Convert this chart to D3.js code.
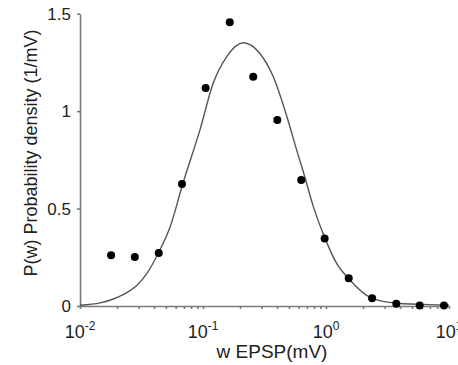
<!DOCTYPE html>
<html>
<head>
<meta charset="utf-8">
<script src="https://cdn.jsdelivr.net/npm/d3@7"></script>
<style>
  body { margin: 0; background: #fff; }
  svg { display: block; font-family: "Liberation Sans", Arial, sans-serif; }
</style>
</head>
<body>
<script>
// measured points (w in mV, density in 1/mV)
const pointW = [0.0179, 0.0279, 0.0437, 0.0675, 0.105, 0.165, 0.256, 0.402, 0.629, 0.975, 1.53, 2.37, 3.73, 5.78, 9.1];
const pointP = [0.26, 0.251, 0.272, 0.626, 1.119, 1.456, 1.176, 0.954, 0.646, 0.347, 0.142, 0.04, 0.012, 0.003, 0.002];

// fitted curve
const curveW = [0.01, 0.0146, 0.0187, 0.0224, 0.0289, 0.0348, 0.0434, 0.054, 0.0684, 0.0946, 0.121, 0.156, 0.213, 0.29, 0.373, 0.479, 0.578, 0.66, 0.789, 0.982, 1.22, 1.52, 2.35, 3.76, 9.0, 10];
const curveP = [0.004, 0.016, 0.036, 0.058, 0.105, 0.165, 0.272, 0.405, 0.626, 0.905, 1.143, 1.28, 1.351, 1.296, 1.176, 0.975, 0.8, 0.68, 0.51, 0.347, 0.219, 0.142, 0.04, 0.014, 0.005, 0.004];

const xMajor = [0.01, 0.1, 1, 10];
const xExp = ["-2", "-1", "0", "1"];
const yTicks = [0, 0.5, 1, 1.5];

const width = 458, height = 365;

const x = d3.scaleLog().domain([0.01, 10]).range([80, 449]);
const y = d3.scaleLinear().domain([0, 1.5]).range([306, 13.7]);

const svg = d3.select("body").append("svg")
    .attr("width", width)
    .attr("height", height);

const axisColor = "#7a7a7a";

// x-Achse: kleine Striche bei 2..9 jeder Dekade
const minor = [];
for (let e = -2; e < 1; e++) for (let k = 1; k <= 9; k++) minor.push(k * Math.pow(10, e));
minor.push(10);

const gx = svg.append("g")
    .attr("transform", `translate(0,${y(0)})`)
    .call(d3.axisBottom(x).tickValues(minor).tickSize(3).tickSizeOuter(0).tickFormat(""));
gx.selectAll("path, line").attr("stroke", axisColor).attr("stroke-width", 1.6);

svg.append("g").selectAll("text")
  .data(xMajor)
  .join("text")
    .attr("x", d => x(d))
    .attr("y", 338)
    .attr("text-anchor", "middle")
    .attr("font-size", 18)
    .attr("fill", "#222")
    .each(function(d, i) {
      const t = d3.select(this);
      t.append("tspan").text("10");
      t.append("tspan").attr("dy", -8).attr("font-size", 12).text(xExp[i]);
    });

// y-Achse
const gy = svg.append("g")
    .attr("transform", `translate(${x(0.01)},0)`)
    .call(d3.axisLeft(y).tickValues(yTicks).tickSize(3).tickSizeOuter(0).tickPadding(6)
      .tickFormat(d => String(d)));
gy.selectAll("path, line").attr("stroke", axisColor).attr("stroke-width", 1.6);
gy.selectAll("text").attr("font-size", 17).attr("fill", "#222").attr("font-family", "Liberation Sans, Arial, sans-serif");

// Kurve
const curve = curveW.map((w, i) => [w, curveP[i]]);
svg.append("path")
    .datum(curve)
    .attr("fill", "none")
    .attr("stroke", "#555")
    .attr("stroke-width", 1.4)
    .attr("d", d3.line().x(d => x(d[0])).y(d => y(d[1])).curve(d3.curveMonotoneX));

// Punkte
svg.append("g").selectAll("circle")
  .data(pointW.map((w, i) => [w, pointP[i]]))
  .join("circle")
    .attr("cx", d => x(d[0]))
    .attr("cy", d => y(d[1]))
    .attr("r", 4)
    .attr("fill", "#000");

// Achsentitel
svg.append("text")
    .attr("x", 272)
    .attr("y", 358)
    .attr("text-anchor", "middle")
    .attr("font-size", 19)
    .attr("fill", "#222")
    .text("w EPSP(mV)");

svg.append("text")
    .attr("transform", "translate(37,153) rotate(-90)")
    .attr("text-anchor", "middle")
    .attr("font-size", 18)
    .attr("fill", "#222")
    .text("P(w) Probability density (1/mV)");
</script>
</body>
</html>
